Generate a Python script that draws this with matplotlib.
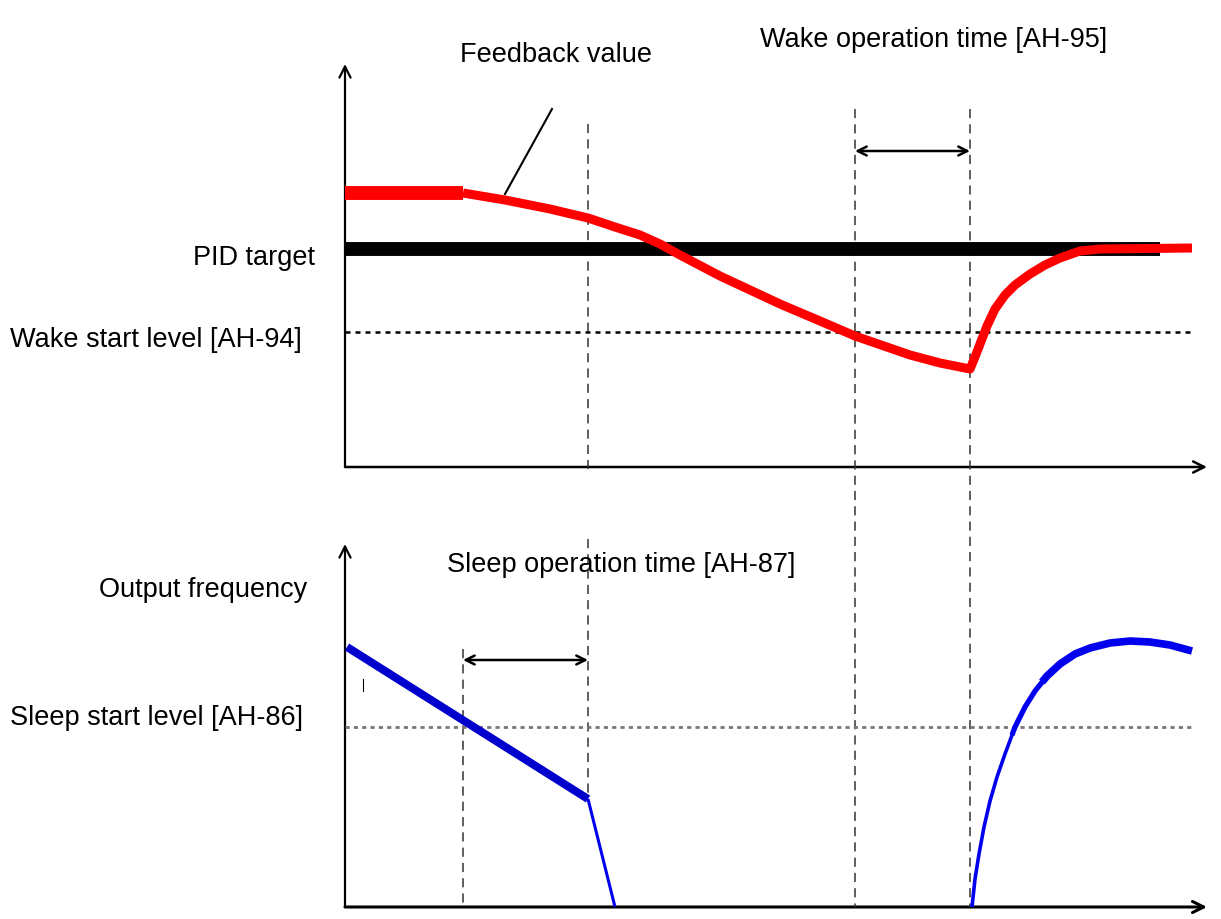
import matplotlib
matplotlib.use("Agg")
import matplotlib.pyplot as plt
from matplotlib.patches import FancyArrowPatch

# ---- data (diagram coordinates: x = time position, y = vertical position, downwards) ----
pid_t = [345, 1160]
pid_v = [250, 250]

fb_flat_t = [345, 463]
fb_flat_v = [194, 194]
fb_t = [463, 505, 550, 588, 615, 640, 660, 680, 720, 780, 820, 855, 910, 940, 970,
        975, 980, 987, 995, 1005, 1015, 1030, 1045, 1060, 1080, 1100, 1192]
fb_v = [194, 201, 210, 219, 228, 236, 245, 256, 277, 305, 322, 337, 356, 364, 370,
        358, 345, 327, 310, 296, 286, 275, 266, 259, 252, 250, 249]

wake_level = 333
sleep_level = 728

freq_dec_t = [347, 588]
freq_dec_v = [648, 800]
freq_stop_t = [588, 615]
freq_stop_v = [800, 908]
freq_rise1_t = [972, 975, 979, 984, 990, 997, 1005, 1015]
freq_rise1_v = [908, 880, 855, 828, 802, 778, 755, 728]
freq_rise_mid_t = [1012, 1015, 1025, 1035, 1047]
freq_rise_mid_v = [736, 728, 708, 692, 677]
freq_rise2_t = [1042, 1047, 1060, 1075, 1090, 1110, 1130, 1150, 1170, 1192]
freq_rise2_v = [683, 677, 665, 655, 649, 644, 642, 643, 646, 652]

FONT = ["Liberation Sans", "DejaVu Sans"]

fig = plt.figure(figsize=(12.21, 9.2), dpi=100)
ax = fig.add_axes([0, 0, 1, 1])
ax.set_xlim(0, 1221)
ax.set_ylim(920, 0)
ax.axis("off")

def arrow(x0, y0, x1, y1, style="-|>", lw=1.5, ms=14):
    ax.add_patch(FancyArrowPatch((x0, y0), (x1, y1), arrowstyle=style,
                                 mutation_scale=ms, lw=lw, color="black",
                                 shrinkA=0, shrinkB=0))

# axes (top)
arrow(345, 468, 345, 65, style="->", lw=1.6, ms=20)
arrow(345, 468, 1207, 468, style="->", lw=1.8, ms=20)
# axes (bottom)
arrow(345, 908, 345, 545, style="->", lw=1.6, ms=20)
arrow(345, 908, 1207, 908, style="->", lw=2.2, ms=20)

# vertical dashed guide lines
dash = dict(color="#333333", lw=1.1, ls=(0, (6, 4)))
ax.plot([588, 588], [125, 470], **dash)
ax.plot([588, 588], [540, 800], **dash)
ax.plot([463, 463], [650, 908], **dash)
ax.plot([855, 855], [110, 908], **dash)
ax.plot([970, 970], [110, 908], **dash)

# dotted level lines
ax.plot([345, 1195], [wake_level, wake_level], color="black", lw=1.8, ls=(0, (2.0, 2.0)))
ax.plot([345, 1195], [sleep_level, sleep_level], color="#777777", lw=2.0, ls=(0, (1.5, 1.5)))

# PID target
ax.plot(pid_t, pid_v, color="black", lw=10, solid_capstyle="butt")

# feedback value
ax.plot(fb_flat_t, fb_flat_v, color="red", lw=10, solid_capstyle="butt")
ax.plot(fb_t, fb_v, color="red", lw=6.5, solid_capstyle="butt", solid_joinstyle="round")

# output frequency
ax.plot(freq_dec_t, freq_dec_v, color="#0000cc", lw=5.8, solid_capstyle="butt")
ax.plot(freq_stop_t, freq_stop_v, color="#0000ee", lw=2.2, solid_capstyle="butt")
ax.plot(freq_rise1_t, freq_rise1_v, color="#0000ee", lw=2.6, solid_capstyle="butt",
        solid_joinstyle="round")
ax.plot(freq_rise_mid_t, freq_rise_mid_v, color="#0000ee", lw=3.8, solid_capstyle="butt",
        solid_joinstyle="round")
ax.plot(freq_rise2_t, freq_rise2_v, color="#0000ee", lw=5.5, solid_capstyle="butt",
        solid_joinstyle="round")
ax.plot([363, 363], [680, 692], color="black", lw=0.8)

# timing arrows
arrow(855, 152, 970, 152, style="<->", lw=1.8, ms=16)
arrow(463, 661, 588, 661, style="<->", lw=1.8, ms=16)

# leader line for feedback label
ax.plot([505, 552], [195, 110], color="black", lw=1.5)

fs = 19.5
ax.text(460, 55, "Feedback value", fontsize=fs, family=FONT, ha="left", va="center")
ax.text(760, 40, "Wake operation time [AH-95]", fontsize=fs, family=FONT, ha="left", va="center")
ax.text(315, 258, "PID target", fontsize=fs, family=FONT, ha="right", va="center")
ax.text(10, 340, "Wake start level [AH-94]", fontsize=fs, family=FONT, ha="left", va="center")
ax.text(447, 565, "Sleep operation time [AH-87]", fontsize=fs, family=FONT, ha="left", va="center")
ax.text(307, 590, "Output frequency", fontsize=fs, family=FONT, ha="right", va="center")
ax.text(10, 718, "Sleep start level [AH-86]", fontsize=fs, family=FONT, ha="left", va="center")

fig.savefig("out.png", dpi=100)
